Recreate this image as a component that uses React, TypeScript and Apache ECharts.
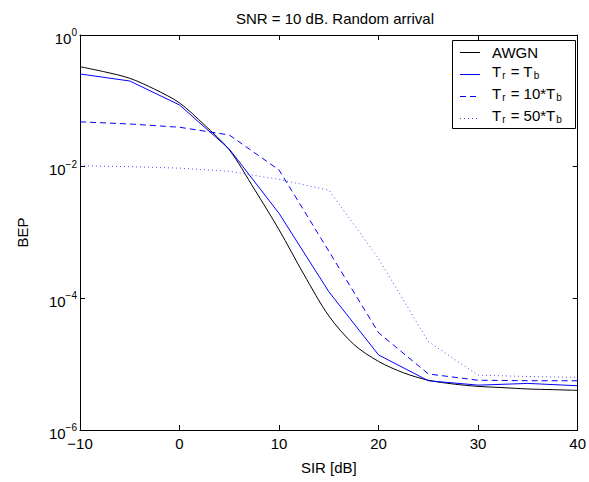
import { useEffect, useRef } from 'react';
import * as echarts from 'echarts';

const sirAwgn = [-10, -7.5, -5, -2.5, 0, 2.5, 5, 7.5, 10, 12.5, 15, 17.5, 20, 22.5, 25, 27.5, 30, 32.5, 35, 37.5, 40];
const bepAwgn = [0.33, 0.275, 0.22, 0.15, 0.093, 0.043, 0.018, 4.6e-3, 1.1e-3, 2.3e-4, 5.4e-5, 2.0e-5, 1.1e-5, 7.4e-6, 5.7e-6, 5.0e-6, 4.6e-6, 4.4e-6, 4.2e-6, 4.1e-6, 4.0e-6];
const sirSim = [-10, -5, 0, 5, 10, 15, 20, 25, 30, 35, 40];
const bepTb = [0.256, 0.2, 0.0865, 0.0185, 1.95e-3, 1.26e-4, 1.38e-5, 5.6e-6, 4.8e-6, 5.1e-6, 4.7e-6];
const bep10Tb = [0.048, 0.0445, 0.0397, 0.0303, 0.0089, 5.2e-4, 3.0e-5, 7.1e-6, 5.7e-6, 5.6e-6, 5.6e-6];
const bep50Tb = [0.0103, 0.01, 0.0095, 8.5e-3, 6.4e-3, 4.4e-3, 4.0e-4, 2.2e-5, 6.8e-6, 6.5e-6, 6.3e-6];

const seriesNames = ['AWGN', 'Tr = Tb', 'Tr = 10*Tb', 'Tr = 50*Tb'];
const seriesColors = ['#000000', '#0000ff', '#0000ff', '#0000ff'];
const seriesDash: any[] = ['solid', 'solid', [6, 4], [1, 3]];
const seriesOpacity = [1, 1, 1, 0.7];
const legendLabels = [
  '{a|AWGN}',
  '{a|T}{s|r}{a| = T}{s|b}',
  '{a|T}{s|r}{a| = 10*T}{s|b}',
  '{a|T}{s|r}{a| = 50*T}{s|b}',
];
const titleText = 'SNR = 10 dB. Random arrival';
const xName = 'SIR [dB]';
const yName = 'BEP';

const FONT = '"Liberation Sans", Arial, Helvetica, sans-serif';

const pair = (xs: number[], ys: number[]) => xs.map((x, i) => [x, ys[i]]);
const minus = (s: string) => s.replace('-', '\u2212');
const lineStyleOf = (i: number) => ({
  color: seriesColors[i],
  width: 1,
  type: seriesDash[i],
  opacity: seriesOpacity[i],
});

// legend layout (pixels)
const LEG = { x: 452, y: 40, w: 123, h: 88, lineX1: 460, lineX2: 480, textX: 492 };
const legendLineY = [52, 74, 96, 118];
const legendTextShift = [0, -3, -3, -3];

export default function App() {
  const ref = useRef<HTMLDivElement>(null);
  useEffect(() => {
    if (!ref.current) return;
    const chart = echarts.init(ref.current, undefined, { renderer: 'svg' });
    const grid = { left: 80, right: 9, top: 35, bottom: 52 };
    const axisLine = { show: true, onZero: false, lineStyle: { color: '#000', width: 1 } };
    const tick = { show: true, inside: true, length: 5, lineStyle: { color: '#000' } };
    const dataSets = [pair(sirAwgn, bepAwgn), pair(sirSim, bepTb), pair(sirSim, bep10Tb), pair(sirSim, bep50Tb)];
    const rich = {
      a: { fontFamily: FONT, fontSize: 15, lineHeight: 16, fill: '#000', color: '#000' },
      s: { fontFamily: FONT, fontSize: 10, lineHeight: 10, fill: '#000', color: '#000', padding: [9, 1, 0, 1] },
    };
    const legendElements: any[] = [
      {
        type: 'rect',
        shape: { x: LEG.x + 0.5, y: LEG.y + 0.5, width: LEG.w, height: LEG.h },
        style: { fill: '#fff', stroke: '#000', lineWidth: 1 },
      },
    ];
    seriesNames.forEach((_, i) => {
      const y = legendLineY[i] + 0.5;
      const dash = seriesDash[i];
      legendElements.push({
        type: 'line',
        shape: { x1: LEG.lineX1, y1: y, x2: LEG.lineX2, y2: y },
        style: {
          stroke: seriesColors[i],
          lineWidth: 1,
          opacity: seriesOpacity[i],
          lineDash: Array.isArray(dash) ? dash : null,
        },
      });
      legendElements.push({
        type: 'text',
        x: LEG.textX,
        y: legendLineY[i] + legendTextShift[i],
        style: {
          text: legendLabels[i],
          rich,
          verticalAlign: 'middle',
          align: 'left',
          fill: '#000',
          font: '15px ' + FONT,
        },
      });
    });
    chart.setOption({
      animation: false,
      backgroundColor: '#fff',
      textStyle: { fontFamily: FONT },
      title: {
        text: titleText,
        left: 330,
        top: 6,
        textAlign: 'center',
        textStyle: { fontFamily: FONT, fontSize: 15, fontWeight: 'normal', color: '#000' },
      },
      grid,
      graphic: { elements: legendElements },
      xAxis: [
        {
          type: 'value',
          min: -10,
          max: 40,
          interval: 10,
          name: xName,
          nameLocation: 'middle',
          nameGap: 30,
          nameTextStyle: { fontFamily: FONT, fontSize: 15, color: '#000' },
          axisLine,
          axisTick: tick,
          splitLine: { show: false },
          axisLabel: {
            margin: 6,
            fontFamily: FONT,
            fontSize: 15,
            color: '#000',
            formatter: (v: number) => minus(String(v)),
          },
        },
        {
          type: 'value',
          position: 'top',
          min: -10,
          max: 40,
          interval: 10,
          axisLine,
          axisTick: tick,
          splitLine: { show: false },
          axisLabel: { show: false },
        },
      ],
      yAxis: [
        {
          type: 'log',
          logBase: 10,
          min: 1e-6,
          max: 1,
          interval: 2,
          name: yName,
          nameLocation: 'middle',
          nameGap: 50,
          nameTextStyle: { fontFamily: FONT, fontSize: 15, color: '#000' },
          axisLine,
          axisTick: tick,
          splitLine: { show: false },
          minorTick: { show: false },
          axisLabel: {
            margin: 3,
            formatter: (v: number) => {
              const e = Math.round(Math.log10(v));
              return '{b|10}{e|' + minus(String(e)) + '}';
            },
            rich: {
              b: { fontFamily: FONT, fontSize: 15, lineHeight: 15, color: '#000', padding: [6, 0, 0, 0] },
              e: { fontFamily: FONT, fontSize: 10, lineHeight: 10, color: '#000', verticalAlign: 'top' },
            },
          },
        },
        {
          type: 'log',
          logBase: 10,
          position: 'right',
          min: 1e-6,
          max: 1,
          interval: 2,
          axisLine,
          axisTick: tick,
          splitLine: { show: false },
          axisLabel: { show: false },
        },
      ],
      series: seriesNames.map((n, i) => ({
        name: n,
        type: 'line',
        data: dataSets[i],
        smooth: i === 0 ? 0.3 : false,
        showSymbol: false,
        symbol: 'none',
        lineStyle: lineStyleOf(i),
        itemStyle: { color: seriesColors[i] },
      })),
    });
    return () => chart.dispose();
  }, []);
  return <div ref={ref} style={{ position: 'fixed', left: 0, top: 0, width: 589, height: 482 }} />;
}
